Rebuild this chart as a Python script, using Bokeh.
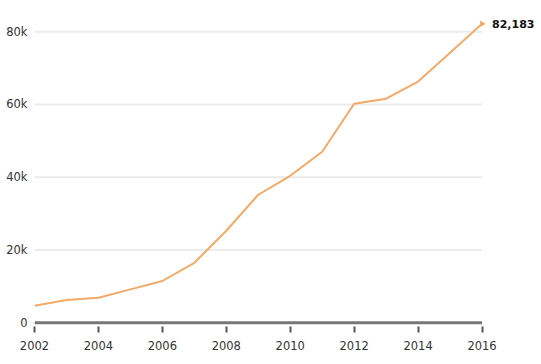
import math
from bokeh.plotting import figure
from bokeh.models import Range1d, NumeralTickFormatter, Label, FixedTicker
from bokeh.embed import file_html
from bokeh.resources import INLINE

years = list(range(2002, 2017))
values = [4700, 6300, 6900, 9200, 11500, 16500, 25300, 35200, 40400, 47000,
          60200, 61600, 66300, 74200, 82183]
x_ticks = [2002, 2004, 2006, 2008, 2010, 2012, 2014, 2016]
y_ticks = [0, 20000, 40000, 60000, 80000]

FONT = "DejaVu Sans"
LINE = "#f4aa66"

x0, x1 = years[0], years[-1]
p = figure(width=541, height=364, output_backend="svg", toolbar_location=None,
           x_range=Range1d(x0, 2017.86), y_range=Range1d(-1000, 85000),
           min_border_left=34, min_border_right=0, min_border_top=13,
           min_border_bottom=38)
p.outline_line_color = None
p.background_fill_color = "white"
p.border_fill_color = "white"

p.xgrid.visible = False
p.ygrid.visible = False

# horizontal grid lines limited to the data span
gy = y_ticks[1:]
p.segment(x0=[x0] * len(gy), x1=[x1] * len(gy), y0=gy, y1=gy,
          line_color="#ebebeb", line_width=2)
# baseline (axis line)
p.segment(x0=[x0], x1=[x1], y0=[0], y1=[0], line_color="#777777", line_width=3)

p.yaxis.ticker = FixedTicker(ticks=y_ticks)
p.yaxis.formatter = NumeralTickFormatter(format="0a")
p.yaxis.axis_line_color = None
p.yaxis.major_tick_line_color = None
p.yaxis.major_tick_out = 0
p.yaxis.major_tick_in = 0
p.yaxis.minor_tick_line_color = None
p.yaxis.minor_tick_out = 0
p.yaxis.major_label_standoff = 7
p.yaxis.major_label_text_font = FONT
p.yaxis.major_label_text_font_size = "11.5px"
p.yaxis.major_label_text_color = "#333333"

p.xaxis.ticker = FixedTicker(ticks=x_ticks)
p.xaxis.axis_line_color = None
p.xaxis.major_tick_line_color = "#555555"
p.xaxis.major_tick_line_width = 2
p.xaxis.major_tick_in = 0
p.xaxis.major_tick_out = 6
p.xaxis.minor_tick_line_color = None
p.xaxis.major_label_standoff = 8
p.xaxis.major_label_text_font = FONT
p.xaxis.major_label_text_font_size = "11.5px"
p.xaxis.major_label_text_color = "#333333"

p.line(years, values, line_color=LINE, line_width=2)
p.scatter([x1], [values[-1]], marker="triangle", size=5, angle=-math.pi / 2,
          fill_color=LINE, line_color=LINE)

p.add_layout(Label(x=x1, y=values[-1], x_offset=10, text=f"{values[-1]:,}",
                   text_font=FONT, text_font_size="11px", text_font_style="bold",
                   text_baseline="middle", text_color="#111111"))

open("out.html", "w").write(file_html(p, INLINE))
